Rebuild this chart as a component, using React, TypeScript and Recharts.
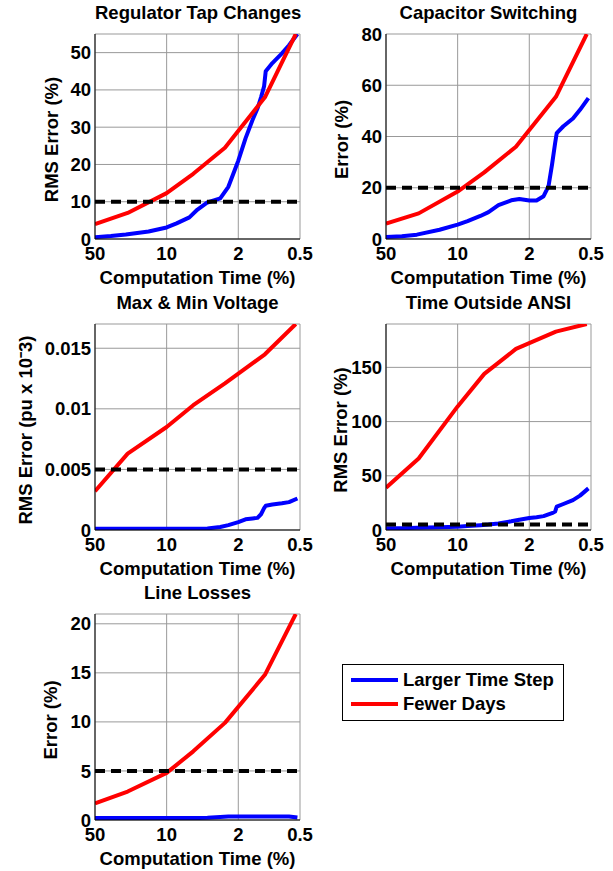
import { LineChart, Line, XAxis, YAxis, CartesianGrid, ReferenceLine, Legend } from 'recharts';

const FONT = "'Liberation Sans', Arial, sans-serif";

// computation time (%) ticks, log axis running from 50 down to 0.5
const timeTicks = [50, 10, 2, 0.5];

// series names, in legend order
const seriesNames = ['Larger Time Step', 'Fewer Days'];

// x positions of the two methods
const daysX = [50, 24, 10, 5.5, 2.7, 1.1, 0.55];
const stepX = [50, 35, 25, 15, 10, 8, 6, 5, 4, 3, 2.5, 2, 1.7, 1.45, 1.3, 1.2, 1.12, 1.08, 0.93, 0.75, 0.64, 0.53];

// Regulator Tap Changes
const tapDays = [4, 7, 12.3, 17.5, 24.5, 38, 55];
const tapStep = [0.5, 0.8, 1.2, 2.0, 3.1, 4.2, 5.8, 7.9, 9.8, 10.9, 14, 21, 27, 32, 35, 38, 41, 45, 47.2, 49.8, 52, 55];
const tapTicks = [0, 10, 20, 30, 40, 50];

// Capacitor Switching
const capDays = [6, 10, 18.5, 26, 36, 55.5, 80];
const capStep = [0.8, 1.1, 1.7, 3.6, 5.6, 7.0, 9.0, 10.5, 13.2, 15.1, 15.6, 15.0, 15.0, 16.7, 20.5, 29, 37.4, 41.3, 44, 47, 50.4, 55];
const capTicks = [0, 20, 40, 60, 80];

// Max & Min Voltage
const voltDays = [0.0032, 0.0063, 0.0085, 0.0103, 0.0121, 0.0145, 0.017];
const voltStep = [0.0001, 0.0001, 0.0001, 0.0001, 0.0001, 0.0001, 0.0001, 0.0001, 0.00013, 0.00025, 0.0004, 0.00065, 0.00088, 0.00095, 0.001, 0.0013, 0.0018, 0.002, 0.0021, 0.0022, 0.0023, 0.0026];
const voltTicks = [0, 0.005, 0.01, 0.015];

// Time Outside ANSI
const ansiDays = [39, 66, 114, 144, 167, 183, 190];
const ansiStep = [1.5, 1.7, 2, 2.5, 3, 3.6, 4.4, 5, 6, 8, 9.5, 11, 11.8, 12.8, 14.4, 15.5, 17, 21.5, 24, 27.6, 31.7, 38.4];
const ansiTicks = [0, 50, 100, 150];

// Line Losses
const lossDays = [1.7, 2.9, 4.8, 7.0, 9.9, 14.8, 21];
const lossStep = [0.2, 0.2, 0.2, 0.2, 0.2, 0.2, 0.2, 0.2, 0.22, 0.3, 0.35, 0.35, 0.35, 0.35, 0.35, 0.35, 0.35, 0.35, 0.35, 0.35, 0.35, 0.25];
const lossTicks = [0, 5, 10, 15, 20];

const pairs = (xs: number[], ys: number[]) => xs.map((x, i) => ({ x, y: ys[i] }));

const panels = [
  { title: 'Regulator Tap Changes', yLabel: 'RMS Error (%)', left: 95, top: 34, h: 205, yMax: 55, ticks: tapTicks, limit: 10, days: tapDays, step: tapStep, labelDx: 37 },
  { title: 'Capacitor Switching', yLabel: 'Error (%)', left: 386, top: 34, h: 205, yMax: 80, ticks: capTicks, limit: 20, days: capDays, step: capStep, labelDx: 38 },
  { title: 'Max & Min Voltage', yLabel: 'RMS Error (pu x 10\u207B3)', left: 95, top: 324, h: 206, yMax: 0.017, ticks: voltTicks, limit: 0.005, days: voltDays, step: voltStep, labelDx: 63 },
  { title: 'Time Outside ANSI', yLabel: 'RMS Error (%)', left: 386, top: 324, h: 206, yMax: 190, ticks: ansiTicks, limit: 5, days: ansiDays, step: ansiStep, labelDx: 39 },
  { title: 'Line Losses', yLabel: 'Error (%)', left: 95, top: 614, h: 206, yMax: 21, ticks: lossTicks, limit: 5, days: lossDays, step: lossStep, labelDx: 38 },
];

const tickStyle = { fill: '#000', fontSize: 18.5, fontWeight: 700, fontFamily: FONT };
const textStyle = { fill: '#000', fontSize: 18.5, fontWeight: 700, fontFamily: FONT };

function LegendBox(props: any) {
  const items = [...(props.payload || [])].sort(
    (a: any, b: any) => seriesNames.indexOf(a.value) - seriesNames.indexOf(b.value)
  );
  return (
    <div style={{ position: 'relative', width: 222, height: 57, border: '1px solid #000', background: '#fff', boxSizing: 'border-box', fontFamily: FONT, fontWeight: 700, fontSize: 18.5 }}>
      {items.map((e: any, i: number) => (
        <div key={e.value}>
          <div style={{ position: 'absolute', left: 8, top: 13 + i * 24, width: 47, height: 4, background: e.color }} />
          <div style={{ position: 'absolute', left: 60, top: 6 + i * 24, lineHeight: 1, whiteSpace: 'nowrap', color: '#000' }}>{e.value}</div>
        </div>
      ))}
    </div>
  );
}

function Panel({ p, withLegend }: { p: (typeof panels)[number]; withLegend?: boolean }) {
  const W = 95 + 205 + 20;
  const H = 34 + p.h + 56;
  const yDomain = [0, p.yMax];
  const yLabel = (props: any) => {
    const vb = props.viewBox || { x: 0, y: 34, width: 95, height: p.h };
    const cx = vb.x + vb.width - p.labelDx;
    const cy = vb.y + vb.height / 2 + 3;
    return (
      <text x={cx} y={cy} transform={`rotate(-90 ${cx} ${cy})`} textAnchor="middle" style={textStyle}>
        {p.yLabel}
      </text>
    );
  };
  return (
    <div style={{ position: 'absolute', left: p.left - 95, top: p.top - 34, width: W, height: H }}>
      <LineChart width={W} height={H} margin={{ top: 34, right: 20, bottom: 0, left: 0 }}>
        <CartesianGrid stroke="#999" strokeWidth={1} />
        <XAxis
          dataKey="x"
          type="number"
          scale="log"
          domain={[0.5, 50]}
          allowDataOverflow
          reversed
          ticks={timeTicks}
          interval={0}
          height={56}
          tickLine={false}
          tickSize={0}
          tickMargin={8}
          axisLine={{ stroke: '#000' }}
          tick={tickStyle}
          label={{ value: 'Computation Time (%)', position: 'insideBottom', offset: 11, style: textStyle }}
        />
        <XAxis
          xAxisId="top"
          orientation="top"
          type="number"
          scale="log"
          domain={[0.5, 50]}
          allowDataOverflow
          reversed
          ticks={timeTicks}
          height={0}
          mirror
          tick={false}
          tickSize={4}
          tickLine={{ stroke: '#000' }}
          axisLine={{ stroke: '#000' }}
        />
        <YAxis
          type="number"
          domain={yDomain}
          allowDataOverflow
          ticks={p.ticks}
          interval={0}
          width={95}
          tickLine={false}
          tickSize={0}
          tickMargin={4}
          axisLine={{ stroke: '#000' }}
          tick={tickStyle}
          label={{ content: yLabel }}
        />
        <YAxis
          yAxisId="right"
          orientation="right"
          type="number"
          domain={yDomain}
          allowDataOverflow
          ticks={p.ticks}
          width={0}
          mirror
          tick={false}
          tickSize={4}
          tickLine={{ stroke: '#000' }}
          axisLine={{ stroke: '#000' }}
        />
        <Line
          name={seriesNames[0]}
          data={pairs(stepX, p.step)}
          dataKey="y"
          type="linear"
          stroke="#0000FF"
          strokeWidth={4}
          strokeLinejoin="round"
          dot={false}
          isAnimationActive={false}
        />
        <Line
          name={seriesNames[1]}
          data={pairs(daysX, p.days)}
          dataKey="y"
          type="linear"
          stroke="#FF0000"
          strokeWidth={4}
          strokeLinejoin="round"
          dot={false}
          isAnimationActive={false}
        />
        <ReferenceLine y={p.limit} stroke="#000" strokeWidth={4} strokeDasharray="10 6" />
        {withLegend && (
          <Legend
            layout="vertical"
            align="center"
            verticalAlign="middle"
            content={LegendBox}
            wrapperStyle={{ left: 342, top: 84, width: 222, height: 57 }}
          />
        )}
      </LineChart>
      <div
        style={{
          position: 'absolute',
          left: 95,
          width: 205,
          top: 4,
          textAlign: 'center',
          fontFamily: FONT,
          fontWeight: 700,
          fontSize: 18.5,
          lineHeight: 1,
          whiteSpace: 'nowrap',
          color: '#000',
        }}
      >
        {p.title}
      </div>
    </div>
  );
}

export default function App() {
  return (
    <div style={{ position: 'absolute', left: 0, top: 0, width: 613, height: 871, background: '#fff' }}>
      {panels.map((p, i) => (
        <Panel key={p.title} p={p} withLegend={i === 4} />
      ))}
    </div>
  );
}
